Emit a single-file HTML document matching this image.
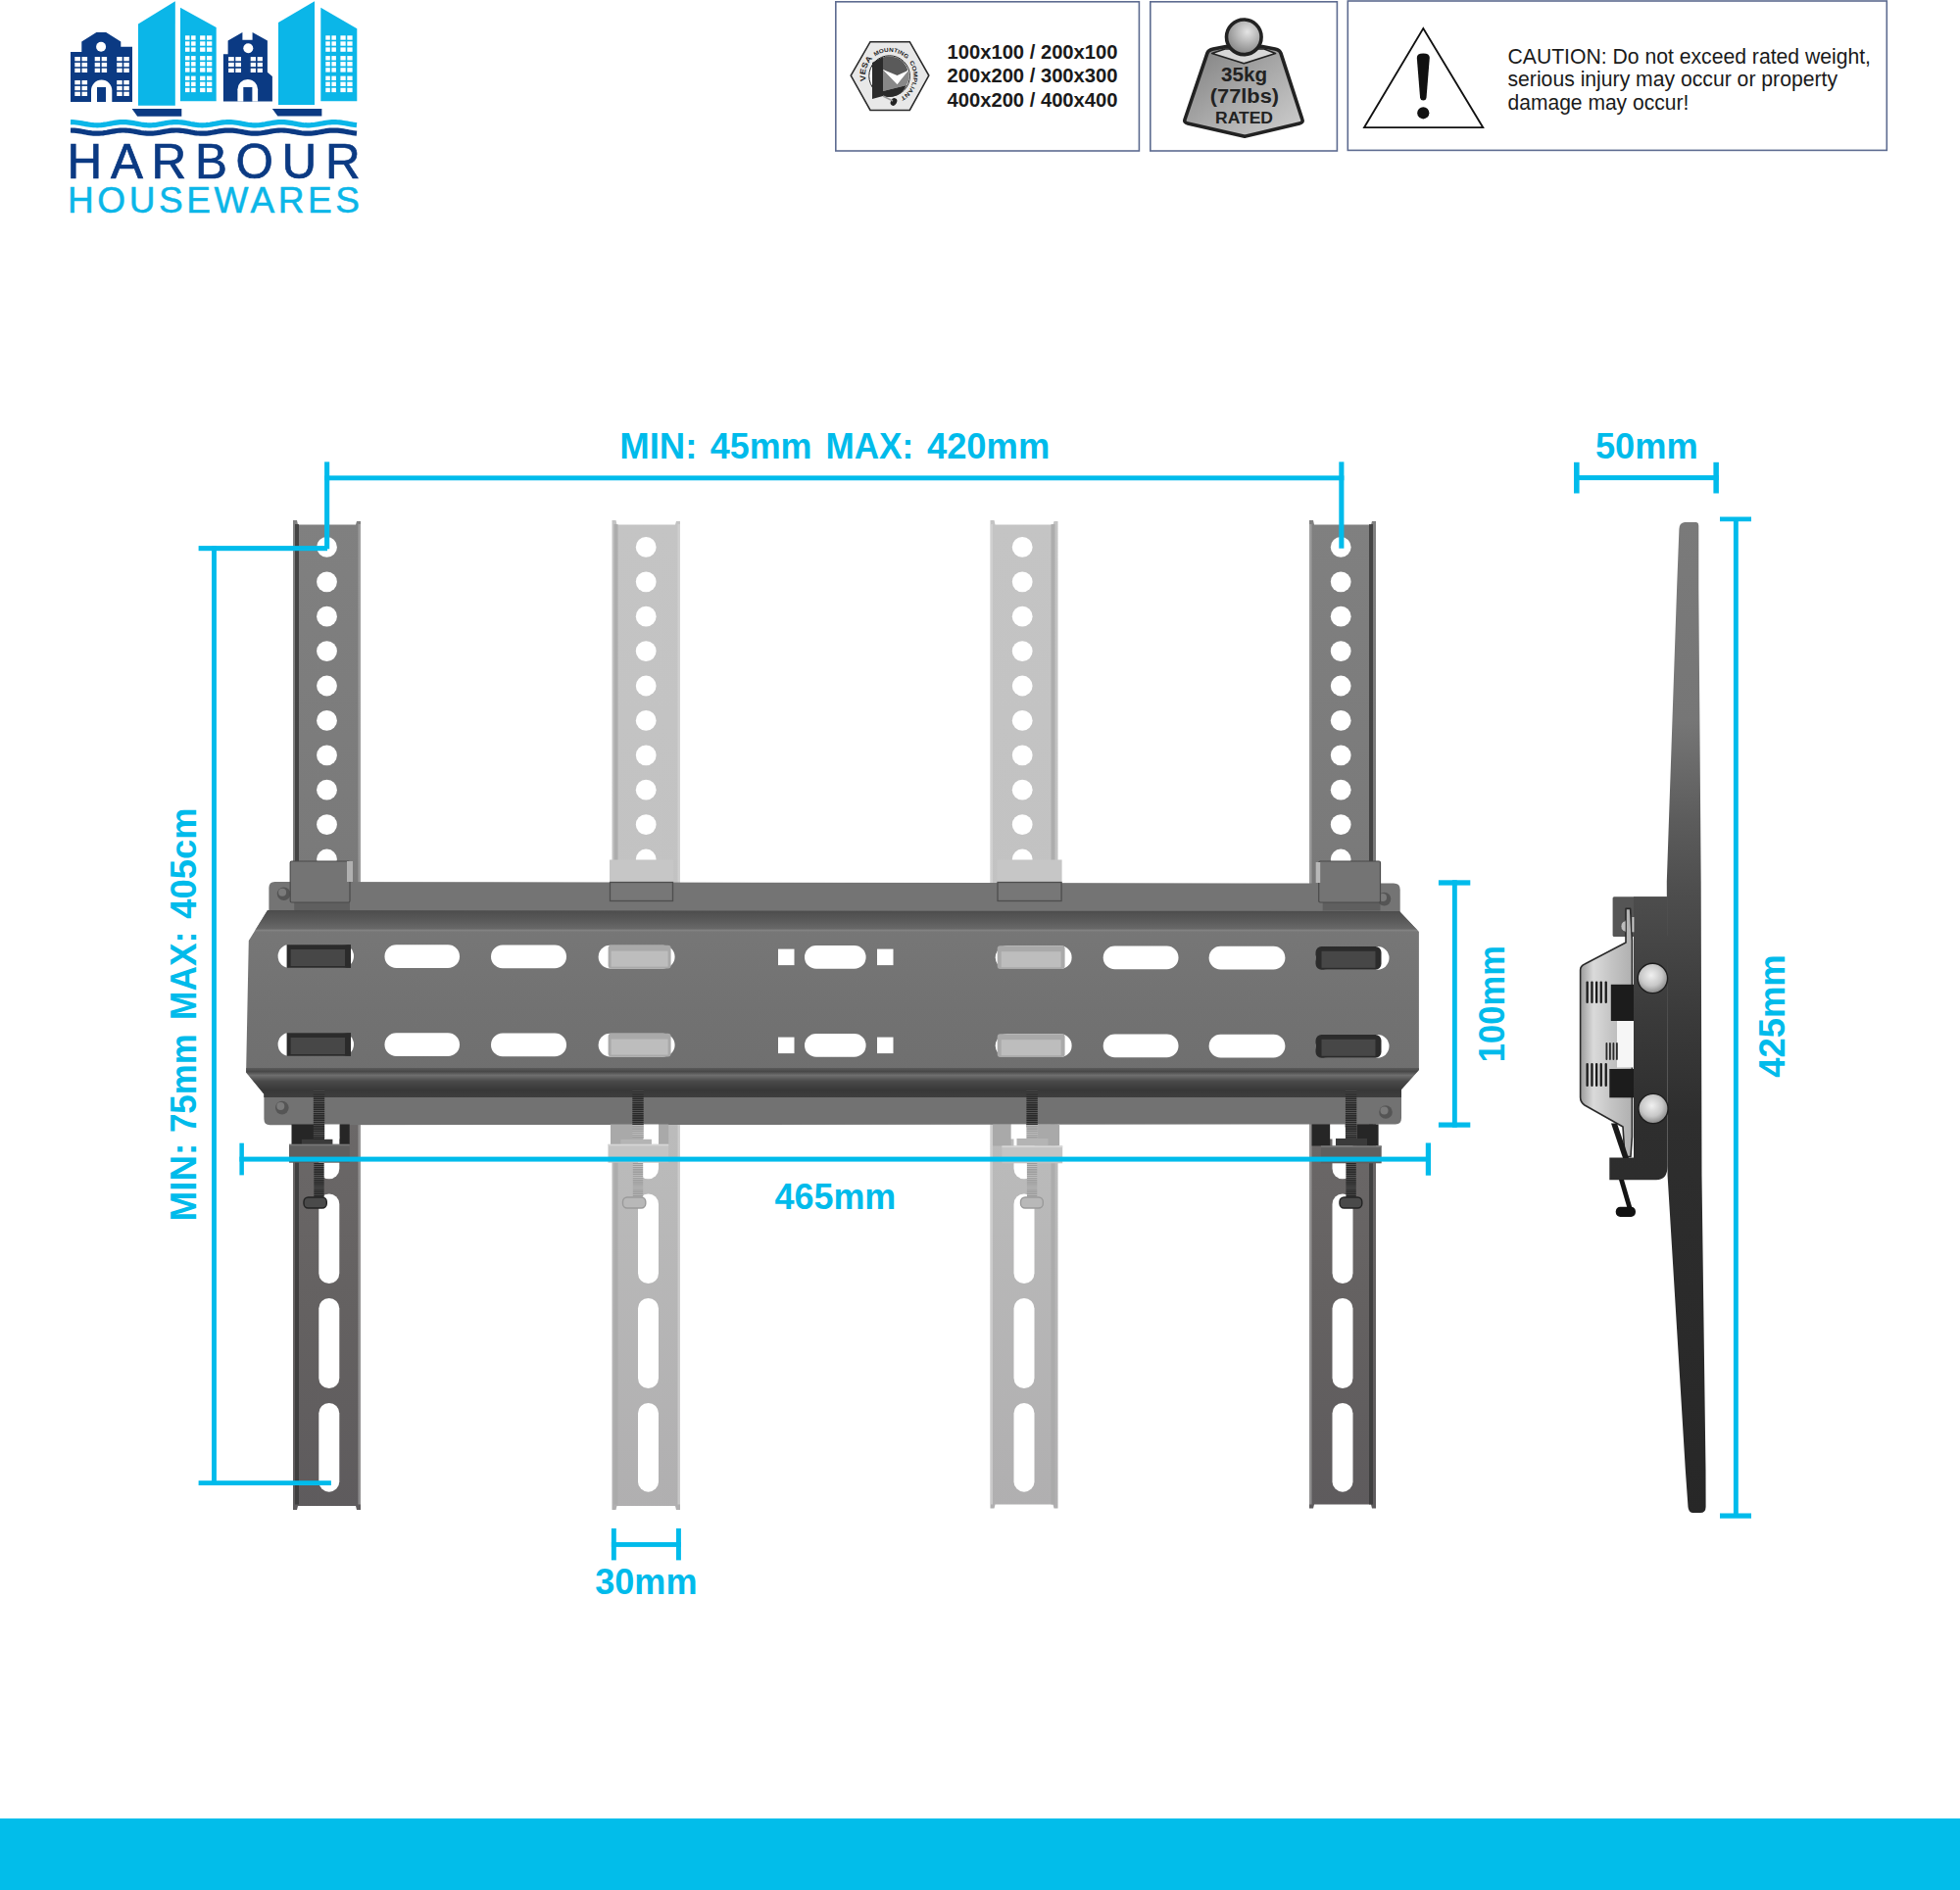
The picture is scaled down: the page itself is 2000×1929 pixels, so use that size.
<!DOCTYPE html>
<html><head><meta charset="utf-8"><title>Harbour Housewares TV Bracket</title>
<style>
html,body{margin:0;padding:0;background:#fff;}
body{width:2000px;height:1929px;overflow:hidden;position:relative;font-family:"Liberation Sans",sans-serif;}
svg{position:absolute;left:0;top:0;display:block;}
</style></head><body>
<svg width="2000" height="1929" viewBox="0 0 2000 1929" font-family="Liberation Sans, sans-serif">
<defs>
  <linearGradient id="wgt" x1="0" y1="0" x2="1" y2="1">
    <stop offset="0" stop-color="#7d7d7d"/><stop offset="0.5" stop-color="#a9a9a9"/><stop offset="1" stop-color="#d0d0d0"/>
  </linearGradient>
  <radialGradient id="ball" cx="0.6" cy="0.35" r="0.7">
    <stop offset="0" stop-color="#e4e4e4"/><stop offset="1" stop-color="#808080"/>
  </radialGradient>
</defs>
<rect x="0" y="0" width="2000" height="1929" fill="#fff"/>

<!-- ============ LOGO ============ -->
<g id="logo">
<path d="M72,104 L72,53 L83.3,53 L83.3,42.4 L98.4,33 L108.2,33 L123.3,42.4 L123.3,47.8 L135,47.8 L135,104 Z" fill="#0b3a83"/>
<circle cx="103.1" cy="47.8" r="5" fill="#fff"/>
<rect x="76.3" y="58.0" width="5.6" height="4.3" fill="#fff"/>
<rect x="76.3" y="63.9" width="5.6" height="4.3" fill="#fff"/>
<rect x="76.3" y="69.7" width="5.6" height="4.3" fill="#fff"/>
<rect x="83.5" y="58.0" width="5.6" height="4.3" fill="#fff"/>
<rect x="83.5" y="63.9" width="5.6" height="4.3" fill="#fff"/>
<rect x="83.5" y="69.7" width="5.6" height="4.3" fill="#fff"/>
<rect x="96.7" y="58.0" width="5.4" height="4.3" fill="#fff"/>
<rect x="96.7" y="63.9" width="5.4" height="4.3" fill="#fff"/>
<rect x="96.7" y="69.7" width="5.4" height="4.3" fill="#fff"/>
<rect x="103.7" y="58.0" width="5.4" height="4.3" fill="#fff"/>
<rect x="103.7" y="63.9" width="5.4" height="4.3" fill="#fff"/>
<rect x="103.7" y="69.7" width="5.4" height="4.3" fill="#fff"/>
<rect x="119.2" y="58.0" width="5.5" height="4.3" fill="#fff"/>
<rect x="119.2" y="63.9" width="5.5" height="4.3" fill="#fff"/>
<rect x="119.2" y="69.7" width="5.5" height="4.3" fill="#fff"/>
<rect x="126.3" y="58.0" width="5.5" height="4.3" fill="#fff"/>
<rect x="126.3" y="63.9" width="5.5" height="4.3" fill="#fff"/>
<rect x="126.3" y="69.7" width="5.5" height="4.3" fill="#fff"/>
<rect x="76.3" y="82.0" width="5.6" height="4.3" fill="#fff"/>
<rect x="76.3" y="87.9" width="5.6" height="4.3" fill="#fff"/>
<rect x="76.3" y="93.7" width="5.6" height="4.3" fill="#fff"/>
<rect x="83.5" y="82.0" width="5.6" height="4.3" fill="#fff"/>
<rect x="83.5" y="87.9" width="5.6" height="4.3" fill="#fff"/>
<rect x="83.5" y="93.7" width="5.6" height="4.3" fill="#fff"/>
<rect x="119.2" y="82.0" width="5.5" height="4.3" fill="#fff"/>
<rect x="119.2" y="87.9" width="5.5" height="4.3" fill="#fff"/>
<rect x="119.2" y="93.7" width="5.5" height="4.3" fill="#fff"/>
<rect x="126.3" y="82.0" width="5.5" height="4.3" fill="#fff"/>
<rect x="126.3" y="87.9" width="5.5" height="4.3" fill="#fff"/>
<rect x="126.3" y="93.7" width="5.5" height="4.3" fill="#fff"/>
<path d="M93,104 L93,92.2 A10.65,10.65 0 0 1 114.3,92.2 L114.3,104 Z" fill="#fff"/>
<rect x="99.0" y="89.0" width="9.0" height="15.0" fill="#0b3a83"/>
<path d="M141,24.5 L178.8,1.2 L178.8,107.8 L141,107.8 Z" fill="#0bb6e8"/>
<path d="M184,7.7 L220.7,28 L220.7,103.3 L184,103.3 Z" fill="#0bb6e8"/>
<rect x="189.0" y="36.3" width="4.5" height="4.4" fill="#fff"/>
<rect x="189.0" y="42.3" width="4.5" height="4.4" fill="#fff"/>
<rect x="189.0" y="48.4" width="4.5" height="4.4" fill="#fff"/>
<rect x="195.1" y="36.3" width="4.5" height="4.4" fill="#fff"/>
<rect x="195.1" y="42.3" width="4.5" height="4.4" fill="#fff"/>
<rect x="195.1" y="48.4" width="4.5" height="4.4" fill="#fff"/>
<rect x="204.1" y="36.3" width="5.3" height="4.4" fill="#fff"/>
<rect x="204.1" y="42.3" width="5.3" height="4.4" fill="#fff"/>
<rect x="204.1" y="48.4" width="5.3" height="4.4" fill="#fff"/>
<rect x="211.0" y="36.3" width="5.3" height="4.4" fill="#fff"/>
<rect x="211.0" y="42.3" width="5.3" height="4.4" fill="#fff"/>
<rect x="211.0" y="48.4" width="5.3" height="4.4" fill="#fff"/>
<rect x="189.0" y="57.1" width="4.5" height="4.4" fill="#fff"/>
<rect x="189.0" y="63.1" width="4.5" height="4.4" fill="#fff"/>
<rect x="189.0" y="69.2" width="4.5" height="4.4" fill="#fff"/>
<rect x="195.1" y="57.1" width="4.5" height="4.4" fill="#fff"/>
<rect x="195.1" y="63.1" width="4.5" height="4.4" fill="#fff"/>
<rect x="195.1" y="69.2" width="4.5" height="4.4" fill="#fff"/>
<rect x="204.1" y="57.1" width="5.3" height="4.4" fill="#fff"/>
<rect x="204.1" y="63.1" width="5.3" height="4.4" fill="#fff"/>
<rect x="204.1" y="69.2" width="5.3" height="4.4" fill="#fff"/>
<rect x="211.0" y="57.1" width="5.3" height="4.4" fill="#fff"/>
<rect x="211.0" y="63.1" width="5.3" height="4.4" fill="#fff"/>
<rect x="211.0" y="69.2" width="5.3" height="4.4" fill="#fff"/>
<rect x="189.0" y="77.6" width="4.5" height="4.4" fill="#fff"/>
<rect x="189.0" y="83.6" width="4.5" height="4.4" fill="#fff"/>
<rect x="189.0" y="89.7" width="4.5" height="4.4" fill="#fff"/>
<rect x="195.1" y="77.6" width="4.5" height="4.4" fill="#fff"/>
<rect x="195.1" y="83.6" width="4.5" height="4.4" fill="#fff"/>
<rect x="195.1" y="89.7" width="4.5" height="4.4" fill="#fff"/>
<rect x="204.1" y="77.6" width="5.3" height="4.4" fill="#fff"/>
<rect x="204.1" y="83.6" width="5.3" height="4.4" fill="#fff"/>
<rect x="204.1" y="89.7" width="5.3" height="4.4" fill="#fff"/>
<rect x="211.0" y="77.6" width="5.3" height="4.4" fill="#fff"/>
<rect x="211.0" y="83.6" width="5.3" height="4.4" fill="#fff"/>
<rect x="211.0" y="89.7" width="5.3" height="4.4" fill="#fff"/>
<path d="M134.6,111 L185.3,111 L185.3,118.7 L140.2,118.7 Z" fill="#0b3a83"/>
<path d="M227.9,103.6 L227.9,55.2 L232.6,55.2 L232.6,41.4 L247.4,33.1 L247.4,40.7 L257.6,40.7 L257.6,33.1 L272.9,41.4 L272.9,73.8 L277.9,78.1 L277.9,103.6 Z" fill="#0b3a83"/>
<circle cx="253.3" cy="49.3" r="5" fill="#fff"/>
<rect x="233.1" y="58.1" width="5.7" height="4.2" fill="#fff"/>
<rect x="233.1" y="63.9" width="5.7" height="4.2" fill="#fff"/>
<rect x="233.1" y="69.8" width="5.7" height="4.2" fill="#fff"/>
<rect x="240.3" y="58.1" width="5.7" height="4.2" fill="#fff"/>
<rect x="240.3" y="63.9" width="5.7" height="4.2" fill="#fff"/>
<rect x="240.3" y="69.8" width="5.7" height="4.2" fill="#fff"/>
<rect x="255.7" y="58.1" width="5.3" height="4.2" fill="#fff"/>
<rect x="255.7" y="63.9" width="5.3" height="4.2" fill="#fff"/>
<rect x="255.7" y="69.8" width="5.3" height="4.2" fill="#fff"/>
<rect x="262.6" y="58.1" width="5.3" height="4.2" fill="#fff"/>
<rect x="262.6" y="63.9" width="5.3" height="4.2" fill="#fff"/>
<rect x="262.6" y="69.8" width="5.3" height="4.2" fill="#fff"/>
<path d="M242.4,103.6 L242.4,91.35 A10.35,10.35 0 0 1 263.1,91.35 L263.1,103.6 Z" fill="#fff"/>
<rect x="248.3" y="89.0" width="9.1" height="14.6" fill="#0b3a83"/>
<path d="M284,23 L321,1.3 L321,107 L284,107 Z" fill="#0bb6e8"/>
<path d="M327.3,7.7 L364.3,29.3 L364.3,103.3 L327.3,103.3 Z" fill="#0bb6e8"/>
<rect x="332.3" y="36.3" width="4.5" height="4.4" fill="#fff"/>
<rect x="332.3" y="42.3" width="4.5" height="4.4" fill="#fff"/>
<rect x="332.3" y="48.4" width="4.5" height="4.4" fill="#fff"/>
<rect x="338.4" y="36.3" width="4.5" height="4.4" fill="#fff"/>
<rect x="338.4" y="42.3" width="4.5" height="4.4" fill="#fff"/>
<rect x="338.4" y="48.4" width="4.5" height="4.4" fill="#fff"/>
<rect x="347.4" y="36.3" width="5.3" height="4.4" fill="#fff"/>
<rect x="347.4" y="42.3" width="5.3" height="4.4" fill="#fff"/>
<rect x="347.4" y="48.4" width="5.3" height="4.4" fill="#fff"/>
<rect x="354.3" y="36.3" width="5.3" height="4.4" fill="#fff"/>
<rect x="354.3" y="42.3" width="5.3" height="4.4" fill="#fff"/>
<rect x="354.3" y="48.4" width="5.3" height="4.4" fill="#fff"/>
<rect x="332.3" y="57.1" width="4.5" height="4.4" fill="#fff"/>
<rect x="332.3" y="63.1" width="4.5" height="4.4" fill="#fff"/>
<rect x="332.3" y="69.2" width="4.5" height="4.4" fill="#fff"/>
<rect x="338.4" y="57.1" width="4.5" height="4.4" fill="#fff"/>
<rect x="338.4" y="63.1" width="4.5" height="4.4" fill="#fff"/>
<rect x="338.4" y="69.2" width="4.5" height="4.4" fill="#fff"/>
<rect x="347.4" y="57.1" width="5.3" height="4.4" fill="#fff"/>
<rect x="347.4" y="63.1" width="5.3" height="4.4" fill="#fff"/>
<rect x="347.4" y="69.2" width="5.3" height="4.4" fill="#fff"/>
<rect x="354.3" y="57.1" width="5.3" height="4.4" fill="#fff"/>
<rect x="354.3" y="63.1" width="5.3" height="4.4" fill="#fff"/>
<rect x="354.3" y="69.2" width="5.3" height="4.4" fill="#fff"/>
<rect x="332.3" y="77.6" width="4.5" height="4.4" fill="#fff"/>
<rect x="332.3" y="83.6" width="4.5" height="4.4" fill="#fff"/>
<rect x="332.3" y="89.7" width="4.5" height="4.4" fill="#fff"/>
<rect x="338.4" y="77.6" width="4.5" height="4.4" fill="#fff"/>
<rect x="338.4" y="83.6" width="4.5" height="4.4" fill="#fff"/>
<rect x="338.4" y="89.7" width="4.5" height="4.4" fill="#fff"/>
<rect x="347.4" y="77.6" width="5.3" height="4.4" fill="#fff"/>
<rect x="347.4" y="83.6" width="5.3" height="4.4" fill="#fff"/>
<rect x="347.4" y="89.7" width="5.3" height="4.4" fill="#fff"/>
<rect x="354.3" y="77.6" width="5.3" height="4.4" fill="#fff"/>
<rect x="354.3" y="83.6" width="5.3" height="4.4" fill="#fff"/>
<rect x="354.3" y="89.7" width="5.3" height="4.4" fill="#fff"/>
<path d="M277.8,111 L328.4,111 L328.4,118.6 L283.4,118.6 Z" fill="#0b3a83"/>
<path d="M72.0,124.60 L73.9,124.64 L75.9,124.76 L77.8,124.96 L79.8,125.22 L81.7,125.53 L83.7,125.87 L85.6,126.23 L87.6,126.59 L89.5,126.93 L91.5,127.23 L93.4,127.48 L95.4,127.67 L97.3,127.77 L99.3,127.80 L101.2,127.74 L103.1,127.61 L105.1,127.40 L107.0,127.13 L109.0,126.81 L110.9,126.46 L112.9,126.10 L114.8,125.74 L116.8,125.41 L118.7,125.12 L120.7,124.88 L122.6,124.71 L124.6,124.62 L126.5,124.61 L128.5,124.68 L130.4,124.83 L132.3,125.05 L134.3,125.32 L136.2,125.65 L138.2,126.00 L140.1,126.36 L142.1,126.72 L144.0,127.05 L146.0,127.33 L147.9,127.56 L149.9,127.71 L151.8,127.79 L153.8,127.79 L155.7,127.70 L157.7,127.54 L159.6,127.31 L161.5,127.02 L163.5,126.69 L165.4,126.33 L167.4,125.97 L169.3,125.62 L171.3,125.30 L173.2,125.02 L175.2,124.81 L177.1,124.67 L179.1,124.60 L181.0,124.62 L183.0,124.72 L184.9,124.90 L186.9,125.14 L188.8,125.44 L190.7,125.77 L192.7,126.13 L194.6,126.50 L196.6,126.84 L198.5,127.16 L200.5,127.42 L202.4,127.62 L204.4,127.75 L206.3,127.80 L208.3,127.77 L210.2,127.65 L212.2,127.46 L214.1,127.21 L216.1,126.90 L218.0,126.56 L219.9,126.20 L221.9,125.84 L223.8,125.50 L225.8,125.19 L227.7,124.94 L229.7,124.75 L231.6,124.63 L233.6,124.60 L235.5,124.65 L237.5,124.78 L239.4,124.98 L241.4,125.24 L243.3,125.56 L245.3,125.90 L247.2,126.27 L249.1,126.62 L251.1,126.96 L253.0,127.26 L255.0,127.50 L256.9,127.68 L258.9,127.78 L260.8,127.80 L262.8,127.73 L264.7,127.59 L266.7,127.38 L268.6,127.10 L270.6,126.78 L272.5,126.43 L274.5,126.07 L276.4,125.71 L278.3,125.38 L280.3,125.09 L282.2,124.86 L284.2,124.70 L286.1,124.61 L288.1,124.61 L290.0,124.69 L292.0,124.84 L293.9,125.07 L295.9,125.35 L297.8,125.68 L299.8,126.03 L301.7,126.40 L303.7,126.75 L305.6,127.07 L307.5,127.35 L309.5,127.57 L311.4,127.72 L313.4,127.79 L315.3,127.78 L317.3,127.69 L319.2,127.52 L321.2,127.28 L323.1,126.99 L325.1,126.66 L327.0,126.30 L329.0,125.94 L330.9,125.59 L332.9,125.27 L334.8,125.00 L336.7,124.79 L338.7,124.66 L340.6,124.60 L342.6,124.63 L344.5,124.73 L346.5,124.92 L348.4,125.17 L350.4,125.47 L352.3,125.81 L354.3,126.17 L356.2,126.53 L358.2,126.87 L360.1,127.18 L362.1,127.44 L364.0,127.64" fill="none" stroke="#0bb6e8" stroke-width="5.2"/>
<path d="M72.0,133.00 L73.9,133.04 L75.9,133.16 L77.8,133.36 L79.8,133.62 L81.7,133.93 L83.7,134.27 L85.6,134.63 L87.6,134.99 L89.5,135.33 L91.5,135.63 L93.4,135.88 L95.4,136.07 L97.3,136.17 L99.3,136.20 L101.2,136.14 L103.1,136.01 L105.1,135.80 L107.0,135.53 L109.0,135.21 L110.9,134.86 L112.9,134.50 L114.8,134.14 L116.8,133.81 L118.7,133.52 L120.7,133.28 L122.6,133.11 L124.6,133.02 L126.5,133.01 L128.5,133.08 L130.4,133.23 L132.3,133.45 L134.3,133.72 L136.2,134.05 L138.2,134.40 L140.1,134.76 L142.1,135.12 L144.0,135.45 L146.0,135.73 L147.9,135.96 L149.9,136.11 L151.8,136.19 L153.8,136.19 L155.7,136.10 L157.7,135.94 L159.6,135.71 L161.5,135.42 L163.5,135.09 L165.4,134.73 L167.4,134.37 L169.3,134.02 L171.3,133.70 L173.2,133.42 L175.2,133.21 L177.1,133.07 L179.1,133.00 L181.0,133.02 L183.0,133.12 L184.9,133.30 L186.9,133.54 L188.8,133.84 L190.7,134.17 L192.7,134.53 L194.6,134.90 L196.6,135.24 L198.5,135.56 L200.5,135.82 L202.4,136.02 L204.4,136.15 L206.3,136.20 L208.3,136.17 L210.2,136.05 L212.2,135.86 L214.1,135.61 L216.1,135.30 L218.0,134.96 L219.9,134.60 L221.9,134.24 L223.8,133.90 L225.8,133.59 L227.7,133.34 L229.7,133.15 L231.6,133.03 L233.6,133.00 L235.5,133.05 L237.5,133.18 L239.4,133.38 L241.4,133.64 L243.3,133.96 L245.3,134.30 L247.2,134.67 L249.1,135.02 L251.1,135.36 L253.0,135.66 L255.0,135.90 L256.9,136.08 L258.9,136.18 L260.8,136.20 L262.8,136.13 L264.7,135.99 L266.7,135.78 L268.6,135.50 L270.6,135.18 L272.5,134.83 L274.5,134.47 L276.4,134.11 L278.3,133.78 L280.3,133.49 L282.2,133.26 L284.2,133.10 L286.1,133.01 L288.1,133.01 L290.0,133.09 L292.0,133.24 L293.9,133.47 L295.9,133.75 L297.8,134.08 L299.8,134.43 L301.7,134.80 L303.7,135.15 L305.6,135.47 L307.5,135.75 L309.5,135.97 L311.4,136.12 L313.4,136.19 L315.3,136.18 L317.3,136.09 L319.2,135.92 L321.2,135.68 L323.1,135.39 L325.1,135.06 L327.0,134.70 L329.0,134.34 L330.9,133.99 L332.9,133.67 L334.8,133.40 L336.7,133.19 L338.7,133.06 L340.6,133.00 L342.6,133.03 L344.5,133.13 L346.5,133.32 L348.4,133.57 L350.4,133.87 L352.3,134.21 L354.3,134.57 L356.2,134.93 L358.2,135.27 L360.1,135.58 L362.1,135.84 L364.0,136.04" fill="none" stroke="#0b3a83" stroke-width="5.2"/>
<text x="68.6" y="181.6" font-size="49.4" fill="#0b3a83" stroke="#0b3a83" stroke-width="0.7" textLength="299" lengthAdjust="spacing">HARBOUR</text>
<text x="69" y="216.8" font-size="37" fill="#0bb6e8" stroke="#0bb6e8" stroke-width="0.5" textLength="298" lengthAdjust="spacing">HOUSEWARES</text>
</g>

<!-- ============ INFO BOXES ============ -->
<g id="boxes">
<rect x="852.8" y="1.8" width="309.6" height="152.2" fill="#fff" stroke="#5d6b90" stroke-width="1.6"/>
<rect x="1173.8" y="1.8" width="190.6" height="152.2" fill="#fff" stroke="#5d6b90" stroke-width="1.6"/>
<rect x="1375.3" y="1" width="550" height="152.4" fill="#fff" stroke="#5d6b90" stroke-width="1.6"/>
<path d="M868.2,77.1 L888,42.7 L928.3,42.7 L947.8,77.1 L928.3,112.5 L888,112.5 Z" fill="#e8e8e8" stroke="#2a2a2a" stroke-width="1.6"/>
<circle cx="907.6" cy="77.6" r="20.8" fill="#fff" stroke="#222" stroke-width="1"/>
<path d="M901,58.5 A19.5,19.5 0 0 1 926.5,72 L915.5,77 L901,71 Z" fill="#5a5a5a"/>
<path d="M901,71 L915.5,86 L927,72 A19.5,19.5 0 0 1 925,87 L901,93 Z" fill="#888"/>
<path d="M901,71 L915.5,86 L926.5,71 L927,72 L915.5,80 Z" fill="#fff"/>
<path d="M890,64 L901,58 L901,93 L925,87 A19.5,19.5 0 0 1 901,98 L890,101 Z" fill="#2a2a2a"/>
<ellipse cx="912" cy="104" rx="3" ry="4" fill="#222" transform="rotate(30 912 104)"/>
<line x1="901" y1="98" x2="911" y2="103" stroke="#999" stroke-width="1.5"/>
<defs><path id="varc" d="M883.6,82.7 A24.6,24.6 0 1 1 918,99.8"/></defs>
<text font-size="8" font-weight="bold" fill="#1e1e1e"><textPath href="#varc" textLength="25" lengthAdjust="spacingAndGlyphs">VESA</textPath></text>
<text font-size="5.8" font-weight="bold" fill="#1e1e1e"><textPath href="#varc" startOffset="28" textLength="35" lengthAdjust="spacingAndGlyphs">MOUNTING</textPath></text>
<text font-size="5.8" font-weight="bold" fill="#1e1e1e"><textPath href="#varc" startOffset="67" textLength="42" lengthAdjust="spacingAndGlyphs">COMPLIANT</textPath></text>
<text x="966.5" y="59.8" font-size="20.5" font-weight="bold" fill="#1a1a1a" textLength="174" lengthAdjust="spacingAndGlyphs">100x100 / 200x100</text>
<text x="966.5" y="84.3" font-size="20.5" font-weight="bold" fill="#1a1a1a" textLength="174" lengthAdjust="spacingAndGlyphs">200x200 / 300x300</text>
<text x="966.5" y="108.8" font-size="20.5" font-weight="bold" fill="#1a1a1a" textLength="174" lengthAdjust="spacingAndGlyphs">400x200 / 400x400</text>
<path d="M1231.9,54.4 Q1233,51 1238,50 L1251,47.5 L1288,47.5 L1301,50 Q1306,51 1307,54.4 L1328.9,122 Q1330,125 1326,126 L1270,139.3 L1212,126 Q1208,125 1209,122 Z" fill="url(#wgt)" stroke="#222" stroke-width="3.6" stroke-linejoin="round"/>
<path d="M1236.7,54.6 L1269.3,64.8 L1301.5,54.6 L1290,50 L1250,50 Z" fill="#d8d8d8" stroke="#222" stroke-width="1.6" stroke-linejoin="round"/>
<circle cx="1269.3" cy="37.8" r="17.8" fill="url(#ball)" stroke="#222" stroke-width="3.6"/>
<text x="1246" y="83.3" font-size="20.3" font-weight="bold" fill="#222" textLength="47" lengthAdjust="spacingAndGlyphs">35kg</text>
<text x="1234.8" y="104.6" font-size="20.3" font-weight="bold" fill="#222" textLength="70.2" lengthAdjust="spacingAndGlyphs">(77lbs)</text>
<text x="1240" y="125.6" font-size="17.4" font-weight="bold" fill="#222" textLength="59" lengthAdjust="spacingAndGlyphs">RATED</text>
<path d="M1452.3,29 L1513.3,130.2 L1392,130.2 Z" fill="#fff" stroke="#111" stroke-width="1.8" stroke-linejoin="miter"/>
<path d="M1445.8,59 Q1445.8,54.6 1452.3,54.6 Q1458.8,54.6 1458.8,59 L1455.5,100 Q1455,102.5 1452.3,102.5 Q1449.6,102.5 1449.1,100 Z" fill="#111"/>
<circle cx="1452.3" cy="115.3" r="6.1" fill="#111"/>
<text x="1538.5" y="64.8" font-size="22" fill="#1a1a1a" textLength="370.5" lengthAdjust="spacingAndGlyphs">CAUTION: Do not exceed rated weight,</text>
<text x="1538.5" y="88.4" font-size="22" fill="#1a1a1a" textLength="336.5" lengthAdjust="spacingAndGlyphs">serious injury may occur or property</text>
<text x="1538.5" y="112.0" font-size="22" fill="#1a1a1a" textLength="184.8" lengthAdjust="spacingAndGlyphs">damage may occur!</text>
</g>

<!-- ============ BRACKET ============ -->
<g id="bracket">
<defs>
<linearGradient id="rdk" x1="0" y1="0" x2="0" y2="1"><stop offset="0" stop-color="#808080"/><stop offset="0.33" stop-color="#7a7a7a"/><stop offset="0.63" stop-color="#6a6767"/><stop offset="0.8" stop-color="#646161"/><stop offset="1" stop-color="#5e5b5d"/></linearGradient>
<linearGradient id="rlt" x1="0" y1="0" x2="0" y2="1"><stop offset="0" stop-color="#c4c4c4"/><stop offset="0.4" stop-color="#c2c2c2"/><stop offset="0.65" stop-color="#bababa"/><stop offset="1" stop-color="#b0afb0"/></linearGradient>
<linearGradient id="plate" x1="0" y1="0" x2="0" y2="1"><stop offset="0" stop-color="#787878"/><stop offset="0.5" stop-color="#727272"/><stop offset="1" stop-color="#6e6e6e"/></linearGradient>
</defs>
<path d="M299,1541 L299,531 L303,531 L304,535.5 L363,535.5 L364,532 L368,532 L368,1541 L364,1541 L363,1537 L304,1537 L303,1541 Z" fill="url(#rdk)"/>
<rect x="301" y="535" width="4" height="1000.5" fill="#3a3a3a" opacity="0.85"/>
<rect x="365.5" y="535" width="2.5" height="1000.5" fill="#b0b0b0" opacity="0.6"/>
<circle cx="333.5" cy="558.4" r="10.4" fill="#fff"/>
<circle cx="333.5" cy="593.8" r="10.4" fill="#fff"/>
<circle cx="333.5" cy="629.2" r="10.4" fill="#fff"/>
<circle cx="333.5" cy="664.6" r="10.4" fill="#fff"/>
<circle cx="333.5" cy="700.0" r="10.4" fill="#fff"/>
<circle cx="333.5" cy="735.4" r="10.4" fill="#fff"/>
<circle cx="333.5" cy="770.8" r="10.4" fill="#fff"/>
<circle cx="333.5" cy="806.2" r="10.4" fill="#fff"/>
<circle cx="333.5" cy="841.6" r="10.4" fill="#fff"/>
<circle cx="333.5" cy="877.0" r="10.4" fill="#fff"/>
<rect x="325.3" y="1150.0" width="21.0" height="53.3" rx="10.5" fill="#fff"/>
<rect x="325.3" y="1218.5" width="21.0" height="91.5" rx="10.5" fill="#fff"/>
<rect x="325.3" y="1325.0" width="21.0" height="92.0" rx="10.5" fill="#fff"/>
<rect x="325.3" y="1432.0" width="21.0" height="90.7" rx="10.5" fill="#fff"/>
<path d="M624.5,1541 L624.5,531 L628.5,531 L629.5,535.5 L689,535.5 L690,532 L694,532 L694,1541 L690,1541 L689,1537 L629.5,1537 L628.5,1541 Z" fill="url(#rlt)"/>
<rect x="626.5" y="535" width="4" height="1000.5" fill="#a9a9a9" opacity="0.85"/>
<rect x="691.5" y="535" width="2.5" height="1000.5" fill="#d8d8d8" opacity="0.6"/>
<circle cx="659.2" cy="558.4" r="10.4" fill="#fff"/>
<circle cx="659.2" cy="593.8" r="10.4" fill="#fff"/>
<circle cx="659.2" cy="629.2" r="10.4" fill="#fff"/>
<circle cx="659.2" cy="664.6" r="10.4" fill="#fff"/>
<circle cx="659.2" cy="700.0" r="10.4" fill="#fff"/>
<circle cx="659.2" cy="735.4" r="10.4" fill="#fff"/>
<circle cx="659.2" cy="770.8" r="10.4" fill="#fff"/>
<circle cx="659.2" cy="806.2" r="10.4" fill="#fff"/>
<circle cx="659.2" cy="841.6" r="10.4" fill="#fff"/>
<circle cx="659.2" cy="877.0" r="10.4" fill="#fff"/>
<rect x="651.0" y="1150.0" width="21.0" height="53.3" rx="10.5" fill="#fff"/>
<rect x="651.0" y="1218.5" width="21.0" height="91.5" rx="10.5" fill="#fff"/>
<rect x="651.0" y="1325.0" width="21.0" height="92.0" rx="10.5" fill="#fff"/>
<rect x="651.0" y="1432.0" width="21.0" height="90.7" rx="10.5" fill="#fff"/>
<path d="M1010.5,1539.5 L1010.5,531 L1014.5,531 L1015.5,535.5 L1074.5,535.5 L1075.5,532 L1079.5,532 L1079.5,1539.5 L1075.5,1539.5 L1074.5,1535.5 L1015.5,1535.5 L1014.5,1539.5 Z" fill="url(#rlt)"/>
<rect x="1072.5" y="535" width="4" height="1000.5" fill="#a9a9a9" opacity="0.85"/>
<rect x="1010.5" y="535" width="2.5" height="1000.5" fill="#d8d8d8" opacity="0.6"/>
<circle cx="1043.2" cy="558.4" r="10.4" fill="#fff"/>
<circle cx="1043.2" cy="593.8" r="10.4" fill="#fff"/>
<circle cx="1043.2" cy="629.2" r="10.4" fill="#fff"/>
<circle cx="1043.2" cy="664.6" r="10.4" fill="#fff"/>
<circle cx="1043.2" cy="700.0" r="10.4" fill="#fff"/>
<circle cx="1043.2" cy="735.4" r="10.4" fill="#fff"/>
<circle cx="1043.2" cy="770.8" r="10.4" fill="#fff"/>
<circle cx="1043.2" cy="806.2" r="10.4" fill="#fff"/>
<circle cx="1043.2" cy="841.6" r="10.4" fill="#fff"/>
<circle cx="1043.2" cy="877.0" r="10.4" fill="#fff"/>
<rect x="1034.5" y="1150.0" width="21.0" height="53.3" rx="10.5" fill="#fff"/>
<rect x="1034.5" y="1218.5" width="21.0" height="91.5" rx="10.5" fill="#fff"/>
<rect x="1034.5" y="1325.0" width="21.0" height="92.0" rx="10.5" fill="#fff"/>
<rect x="1034.5" y="1432.0" width="21.0" height="90.7" rx="10.5" fill="#fff"/>
<path d="M1336,1539.5 L1336,531 L1340,531 L1341,535.5 L1399,535.5 L1400,532 L1404,532 L1404,1539.5 L1400,1539.5 L1399,1535.5 L1341,1535.5 L1340,1539.5 Z" fill="url(#rdk)"/>
<rect x="1397" y="535" width="4" height="1000.5" fill="#3a3a3a" opacity="0.85"/>
<rect x="1336" y="535" width="2.5" height="1000.5" fill="#b0b0b0" opacity="0.6"/>
<circle cx="1368.2" cy="558.4" r="10.4" fill="#fff"/>
<circle cx="1368.2" cy="593.8" r="10.4" fill="#fff"/>
<circle cx="1368.2" cy="629.2" r="10.4" fill="#fff"/>
<circle cx="1368.2" cy="664.6" r="10.4" fill="#fff"/>
<circle cx="1368.2" cy="700.0" r="10.4" fill="#fff"/>
<circle cx="1368.2" cy="735.4" r="10.4" fill="#fff"/>
<circle cx="1368.2" cy="770.8" r="10.4" fill="#fff"/>
<circle cx="1368.2" cy="806.2" r="10.4" fill="#fff"/>
<circle cx="1368.2" cy="841.6" r="10.4" fill="#fff"/>
<circle cx="1368.2" cy="877.0" r="10.4" fill="#fff"/>
<rect x="1359.5" y="1150.0" width="21.0" height="53.3" rx="10.5" fill="#fff"/>
<rect x="1359.5" y="1218.5" width="21.0" height="91.5" rx="10.5" fill="#fff"/>
<rect x="1359.5" y="1325.0" width="21.0" height="92.0" rx="10.5" fill="#fff"/>
<rect x="1359.5" y="1432.0" width="21.0" height="90.7" rx="10.5" fill="#fff"/>
<defs><clipPath id="fp"><path d="M253.8,960 L273,929 L1428,930 L1447.9,951 L1447.9,1092 L1430,1112 L1430,1120 L269.4,1120 L269.4,1116.7 L251.1,1094.4 Z"/></clipPath>
<linearGradient id="bandT" x1="0" y1="929" x2="0" y2="949" gradientUnits="userSpaceOnUse"><stop offset="0" stop-color="#4c4c4c"/><stop offset="0.5" stop-color="#595959"/><stop offset="1" stop-color="#6a6a6a"/></linearGradient>
<linearGradient id="bandB" x1="0" y1="1090" x2="0" y2="1120" gradientUnits="userSpaceOnUse"><stop offset="0" stop-color="#5a5a5a"/><stop offset="0.12" stop-color="#484848"/><stop offset="0.25" stop-color="#6e6e6e"/><stop offset="0.45" stop-color="#4a4a4a"/><stop offset="0.75" stop-color="#383838"/><stop offset="1" stop-color="#3e3e3e"/></linearGradient></defs>
<path d="M274.4,906 Q274.4,900 280.4,900 L1422,901.6 Q1428.7,901.6 1428.7,908 L1428.7,935 L274.4,935 Z" fill="#747474"/>
<path d="M269.4,1112 L1430,1112 L1430,1141 Q1430,1147.5 1424,1147.5 L275.4,1148.2 Q269.4,1148.2 269.4,1142 Z" fill="#727272"/>
<g clip-path="url(#fp)">
<rect x="240" y="925" width="1220" height="200" fill="url(#plate)"/>
<rect x="240" y="929" width="1220" height="20" fill="url(#bandT)"/>
<rect x="240" y="948.5" width="1220" height="2" fill="#8a8a8a" opacity="0.6"/>
<rect x="240" y="1090" width="1220" height="30" fill="url(#bandB)"/>
</g>
<circle cx="289.6" cy="912.3" r="6.8" fill="#555"/><circle cx="288.1" cy="910.8" r="4" fill="#7a7a7a"/>
<circle cx="287.8" cy="1130.6" r="6.8" fill="#555"/><circle cx="286.3" cy="1129.1" r="4" fill="#7a7a7a"/>
<circle cx="1412.5" cy="917.6" r="6.8" fill="#555"/><circle cx="1411.0" cy="916.1" r="4" fill="#7a7a7a"/>
<circle cx="1414" cy="1135" r="6.8" fill="#555"/><circle cx="1412.5" cy="1133.5" r="4" fill="#7a7a7a"/>
<rect x="283.6" y="964.1" width="77.4" height="23.8" rx="11.9" fill="#fff"/>
<rect x="292.6" y="964.1" width="65.39999999999998" height="23.8" fill="#2b2b2b"/>
<rect x="296.6" y="969.0" width="55.39999999999998" height="17" fill="#474747"/>
<rect x="392.5" y="964.3" width="76.5" height="23.8" rx="11.9" fill="#fff"/>
<rect x="501.0" y="964.5" width="77.0" height="23.8" rx="11.9" fill="#fff"/>
<rect x="610.6" y="964.7" width="78.0" height="23.8" rx="11.9" fill="#fff"/>
<rect x="620.6" y="964.7" width="64.0" height="23.8" rx="3" fill="#a9a9a9"/>
<rect x="623.6" y="970.6" width="58.0" height="16" fill="#bdbdbd"/>
<rect x="821.0" y="965.0" width="62.6" height="23.8" rx="11.9" fill="#fff"/>
<rect x="1015.7" y="965.3" width="77.9" height="23.8" rx="11.9" fill="#fff"/>
<rect x="1017.7" y="965.3" width="68.89999999999986" height="23.8" rx="3" fill="#a9a9a9"/>
<rect x="1021.7" y="971.2" width="60.899999999999864" height="16" fill="#bdbdbd"/>
<rect x="1125.7" y="965.5" width="76.8" height="23.8" rx="11.9" fill="#fff"/>
<rect x="1233.6" y="965.7" width="77.8" height="23.8" rx="11.9" fill="#fff"/>
<rect x="1342.5" y="965.9" width="75.0" height="23.8" rx="11.9" fill="#fff"/>
<rect x="1342.5" y="965.9" width="67.0" height="23.8" rx="6" fill="#2b2b2b"/>
<rect x="1348.5" y="970.8" width="55.0" height="17" fill="#474747"/>
<rect x="794" y="968.6" width="16.5" height="16.5" fill="#fff"/>
<rect x="895" y="968.6" width="16.5" height="16.5" fill="#fff"/>
<rect x="283.6" y="1054.1" width="77.4" height="23.8" rx="11.9" fill="#fff"/>
<rect x="292.6" y="1054.1" width="65.39999999999998" height="23.8" fill="#2b2b2b"/>
<rect x="296.6" y="1059.0" width="55.39999999999998" height="17" fill="#474747"/>
<rect x="392.5" y="1054.3" width="76.5" height="23.8" rx="11.9" fill="#fff"/>
<rect x="501.0" y="1054.5" width="77.0" height="23.8" rx="11.9" fill="#fff"/>
<rect x="610.6" y="1054.7" width="78.0" height="23.8" rx="11.9" fill="#fff"/>
<rect x="620.6" y="1054.7" width="64.0" height="23.8" rx="3" fill="#a9a9a9"/>
<rect x="623.6" y="1060.6" width="58.0" height="16" fill="#bdbdbd"/>
<rect x="821.0" y="1055.0" width="62.6" height="23.8" rx="11.9" fill="#fff"/>
<rect x="1015.7" y="1055.3" width="77.9" height="23.8" rx="11.9" fill="#fff"/>
<rect x="1017.7" y="1055.3" width="68.89999999999986" height="23.8" rx="3" fill="#a9a9a9"/>
<rect x="1021.7" y="1061.2" width="60.899999999999864" height="16" fill="#bdbdbd"/>
<rect x="1125.7" y="1055.5" width="76.8" height="23.8" rx="11.9" fill="#fff"/>
<rect x="1233.6" y="1055.7" width="77.8" height="23.8" rx="11.9" fill="#fff"/>
<rect x="1342.5" y="1055.9" width="75.0" height="23.8" rx="11.9" fill="#fff"/>
<rect x="1342.5" y="1055.9" width="67.0" height="23.8" rx="6" fill="#2b2b2b"/>
<rect x="1348.5" y="1060.8" width="55.0" height="17" fill="#474747"/>
<rect x="794" y="1058.6" width="16.5" height="16.5" fill="#fff"/>
<rect x="895" y="1058.6" width="16.5" height="16.5" fill="#fff"/>
<rect x="300.2" y="920" width="56.80000000000001" height="9.5" fill="#4e4e4e" opacity="0.55"/>
<rect x="296.2" y="879" width="60.80000000000001" height="42" rx="1.5" fill="#747474" stroke="#4a4a4a" stroke-width="1.2"/>
<rect x="354" y="879" width="6" height="21" fill="#b0b0b0"/>
<rect x="622" y="877.5" width="65" height="23" fill="#c6c6c6"/>
<rect x="622.5" y="900.5" width="64" height="19" fill="#777" stroke="#4e4e4e" stroke-width="1.3"/>
<rect x="1017.5" y="877.5" width="66.09999999999991" height="23" fill="#c6c6c6"/>
<rect x="1018.0" y="900.5" width="65.09999999999991" height="19" fill="#777" stroke="#4e4e4e" stroke-width="1.3"/>
<rect x="1349.7" y="920" width="58.799999999999955" height="9.5" fill="#4e4e4e" opacity="0.55"/>
<rect x="1345.7" y="879" width="62.799999999999955" height="42" rx="1.5" fill="#747474" stroke="#4a4a4a" stroke-width="1.2"/>
<rect x="1342.7" y="880" width="4.5" height="21" fill="#b8b8b8"/>
<defs><pattern id="thrD" width="4" height="2.2" patternUnits="userSpaceOnUse"><rect width="4" height="2.2" fill="#262626"/><rect y="0" width="4" height="0.8" fill="#5a5a5a"/></pattern>
<pattern id="thrL" width="4" height="2.2" patternUnits="userSpaceOnUse"><rect width="4" height="2.2" fill="#9a9a9a"/><rect y="0" width="4" height="0.8" fill="#c4c4c4"/></pattern></defs>
<rect x="297.5" y="1147.5" width="33.5" height="21" fill="#262626"/>
<rect x="331" y="1147.5" width="15.7" height="15" fill="#fff"/>
<rect x="346.7" y="1147.5" width="10" height="21" fill="#262626"/>
<rect x="307.8" y="1162.8" width="31.6" height="6" fill="#3a3a3a"/>
<rect x="295" y="1167.8" width="61.7" height="18.9" fill="#5f5f5f"/>
<rect x="295" y="1167.8" width="61.7" height="1.6" fill="#777"/>
<rect x="319.8" y="1113.5" width="11.4" height="34.5" fill="url(#thrD)"/>
<rect x="319.8" y="1148" width="11.4" height="14" fill="url(#thrD)"/>
<rect x="320.3" y="1187" width="10.4" height="36" fill="url(#thrD)"/>
<rect x="310.0" y="1222" width="23.3" height="11" rx="4.5" fill="#4a4a4a" stroke="#222" stroke-width="1.4"/>
<rect x="623.0" y="1147.5" width="33.5" height="21" fill="#a9a9a9"/>
<rect x="656.5" y="1147.5" width="15.7" height="15" fill="#fff"/>
<rect x="672.2" y="1147.5" width="10" height="21" fill="#a9a9a9"/>
<rect x="633.3" y="1162.8" width="31.6" height="6" fill="#b4b4b4"/>
<rect x="620.5" y="1167.8" width="61.7" height="18.9" fill="#c4c4c4"/>
<rect x="620.5" y="1167.8" width="61.7" height="1.6" fill="#d6d6d6"/>
<rect x="645.3" y="1113.5" width="11.4" height="34.5" fill="url(#thrD)"/>
<rect x="645.3" y="1148" width="11.4" height="14" fill="url(#thrL)"/>
<rect x="645.8" y="1187" width="10.4" height="36" fill="url(#thrL)"/>
<rect x="635.5" y="1222" width="23.3" height="11" rx="4.5" fill="#b8b8b8" stroke="#9a9a9a" stroke-width="1.4"/>
<rect x="1013.0999999999999" y="1147.5" width="18.6" height="22" fill="#a9a9a9"/>
<rect x="1031.7" y="1147.5" width="15.4" height="15" fill="#fff"/>
<rect x="1059.1" y="1147.5" width="22" height="22" fill="#a9a9a9"/>
<rect x="1037.5" y="1162" width="32" height="7.5" fill="#b4b4b4"/>
<rect x="1022.4000000000001" y="1169.5" width="61.8" height="17.8" fill="#c4c4c4"/>
<rect x="1022.4000000000001" y="1169.5" width="61.8" height="1.6" fill="#d6d6d6"/>
<rect x="1047.3999999999999" y="1113.5" width="11.4" height="34.5" fill="url(#thrD)"/>
<rect x="1047.3999999999999" y="1148" width="11.4" height="14" fill="url(#thrL)"/>
<rect x="1047.8999999999999" y="1187" width="10.4" height="36" fill="url(#thrL)"/>
<rect x="1041.5" y="1222" width="22.8" height="11" rx="4.5" fill="#b8b8b8" stroke="#9a9a9a" stroke-width="1.4"/>
<rect x="1338.6" y="1147.5" width="18.6" height="22" fill="#262626"/>
<rect x="1357.2" y="1147.5" width="15.4" height="15" fill="#fff"/>
<rect x="1384.6" y="1147.5" width="22" height="22" fill="#262626"/>
<rect x="1363" y="1162" width="32" height="7.5" fill="#3a3a3a"/>
<rect x="1347.9" y="1169.5" width="61.8" height="17.8" fill="#5f5f5f"/>
<rect x="1347.9" y="1169.5" width="61.8" height="1.6" fill="#777"/>
<rect x="1372.8999999999999" y="1113.5" width="11.4" height="34.5" fill="url(#thrD)"/>
<rect x="1372.8999999999999" y="1148" width="11.4" height="14" fill="url(#thrD)"/>
<rect x="1373.3999999999999" y="1187" width="10.4" height="36" fill="url(#thrD)"/>
<rect x="1367.0" y="1222" width="22.8" height="11" rx="4.5" fill="#4a4a4a" stroke="#222" stroke-width="1.4"/>
</g>

<!-- ============ SIDE VIEW ============ -->
<g id="side">
<defs>
<linearGradient id="sbar" x1="0" y1="533" x2="0" y2="1545" gradientUnits="userSpaceOnUse"><stop offset="0" stop-color="#7a7a7a"/><stop offset="0.2" stop-color="#767676"/><stop offset="0.3" stop-color="#5c5c5c"/><stop offset="0.37" stop-color="#4e4e4e"/><stop offset="0.5" stop-color="#3a3a3a"/><stop offset="0.6" stop-color="#2e2e2e"/><stop offset="1" stop-color="#272727"/></linearGradient>
<linearGradient id="silver" x1="0" y1="0" x2="1" y2="0"><stop offset="0" stop-color="#9a9a9a"/><stop offset="0.25" stop-color="#dadada"/><stop offset="0.6" stop-color="#c4c4c4"/><stop offset="1" stop-color="#b0b0b0"/></linearGradient>
<radialGradient id="bolt" cx="0.45" cy="0.4" r="0.6"><stop offset="0" stop-color="#f0f0f0"/><stop offset="0.6" stop-color="#c8c8c8"/><stop offset="1" stop-color="#8a8a8a"/></radialGradient>
</defs>
<path d="M1713.4,540 Q1713.6,533.5 1719,533 L1731,533 Q1733.5,533.5 1733.3,537 L1733.3,600 L1735.7,900 L1736.5,1200 L1740.5,1500 L1740.6,1538 Q1740.5,1544 1735,1544 L1727,1544 Q1723,1543.5 1722.5,1538 L1719.8,1500 L1701.6,1200 L1700.8,900 L1711.1,600 Z" fill="url(#sbar)"/>
<rect x="1645.6" y="915.2" width="56" height="40.8" rx="1.5" fill="#555"/>
<path d="M1667,915.2 L1701.2,915.2 L1701.6,1190 Q1701.6,1204.2 1690,1204.2 L1642.3,1204.2 L1642.3,1181.6 L1667,1181.6 Z" fill="url(#sbar)"/>
<path d="M1659,927.4 L1663.6,927.4 L1665.4,960 L1665.4,1160 L1664,1180.5 L1658,1180.5 L1656,1150 L1617,1128 Q1612.6,1125 1612.6,1120 L1612.6,990 Q1612.6,986 1617,984 L1659,962 Z" fill="url(#silver)" stroke="#2a2a2a" stroke-width="1.6" stroke-linejoin="round"/>
<rect x="1665.4" y="936" width="2" height="15.3" fill="#c8c8c8"/>
<path d="M1659,939.6 A6.5,6 0 0 0 1659,951.3 Z" fill="#bdbdbd" stroke="#444" stroke-width="0.8"/>
<rect x="1643.8" y="1004.8" width="23.2" height="37.2" fill="#1c1c1c"/>
<rect x="1650" y="1042" width="17" height="47.5" fill="#f6f6f6"/>
<rect x="1642.3" y="1091" width="24.7" height="29.3" fill="#1c1c1c"/>
<rect x="1618.5" y="1001.5" width="2.3" height="22.5" rx="1.1" fill="#1a1a1a"/>
<rect x="1623.3" y="1001.5" width="2.3" height="22.5" rx="1.1" fill="#1a1a1a"/>
<rect x="1628" y="1001.5" width="2.3" height="22.5" rx="1.1" fill="#1a1a1a"/>
<rect x="1632.6" y="1001.5" width="2.3" height="22.5" rx="1.1" fill="#1a1a1a"/>
<rect x="1637.6" y="1001.5" width="2.3" height="22.5" rx="1.1" fill="#1a1a1a"/>
<rect x="1618.5" y="1085" width="2.3" height="24" rx="1.1" fill="#1a1a1a"/>
<rect x="1623.3" y="1085" width="2.3" height="24" rx="1.1" fill="#1a1a1a"/>
<rect x="1628" y="1085" width="2.3" height="24" rx="1.1" fill="#1a1a1a"/>
<rect x="1632.6" y="1085" width="2.3" height="24" rx="1.1" fill="#1a1a1a"/>
<rect x="1637.6" y="1085" width="2.3" height="24" rx="1.1" fill="#1a1a1a"/>
<rect x="1638.5" y="1064" width="1.8" height="18" rx="0.9" fill="#2a2a2a"/>
<rect x="1642" y="1064" width="1.8" height="18" rx="0.9" fill="#2a2a2a"/>
<rect x="1645.5" y="1064" width="1.8" height="18" rx="0.9" fill="#2a2a2a"/>
<rect x="1649" y="1064" width="1.8" height="18" rx="0.9" fill="#2a2a2a"/>
<circle cx="1686.4" cy="998.4" r="15.2" fill="url(#bolt)" stroke="#1e1e1e" stroke-width="1.4"/>
<path d="M1644,1146.4 L1656,1182 L1662,1182 L1650,1146.4 Z" fill="#1a1a1a"/>
<path d="M1652,1204 L1660.5,1233 L1665.5,1233 L1657,1204 Z" fill="#141414"/>
<rect x="1648.8" y="1231.8" width="20.1" height="10.1" rx="4.5" fill="#111"/>
<circle cx="1687" cy="1131.5" r="15.1" fill="url(#bolt)" stroke="#1e1e1e" stroke-width="1.4"/>
</g>

<!-- ============ DIMENSIONS ============ -->
<g id="dims">
<rect x="331.1" y="485.4" width="1040.3" height="4.9" fill="#00bbeb"/>
<rect x="331.1" y="471.4" width="5.1" height="88.9" fill="#00bbeb"/>
<rect x="1366.3" y="471.4" width="5.1" height="88.3" fill="#00bbeb"/>
<rect x="216.0" y="557.1" width="4.9" height="958.9" fill="#00bbeb"/>
<rect x="202.6" y="557.1" width="131.4" height="5.1" fill="#00bbeb"/>
<rect x="202.6" y="1511.2" width="135.3" height="4.8" fill="#00bbeb"/>
<rect x="244.4" y="1180.6" width="1215.6" height="5.0" fill="#00bbeb"/>
<rect x="244.4" y="1166.7" width="4.5" height="32.7" fill="#00bbeb"/>
<rect x="1454.8" y="1166.5" width="5.2" height="33.2" fill="#00bbeb"/>
<rect x="1481.9" y="898.3" width="4.9" height="252.4" fill="#00bbeb"/>
<rect x="1467.9" y="898.3" width="32.4" height="5.3" fill="#00bbeb"/>
<rect x="1467.9" y="1145.5" width="32.4" height="5.2" fill="#00bbeb"/>
<rect x="623.9" y="1559.9" width="4.9" height="32.5" fill="#00bbeb"/>
<rect x="690.0" y="1559.9" width="4.9" height="32.5" fill="#00bbeb"/>
<rect x="623.9" y="1574.0" width="71.0" height="4.9" fill="#00bbeb"/>
<rect x="1606.0" y="471.8" width="5.6" height="31.7" fill="#00bbeb"/>
<rect x="1748.4" y="471.8" width="5.5" height="31.7" fill="#00bbeb"/>
<rect x="1606.0" y="485.1" width="147.9" height="5.0" fill="#00bbeb"/>
<rect x="1768.9" y="529.7" width="4.9" height="1017.3" fill="#00bbeb"/>
<rect x="1755.0" y="527.5" width="32.0" height="4.7" fill="#00bbeb"/>
<rect x="1755.0" y="1544.5" width="32.0" height="5.2" fill="#00bbeb"/>
<text x="632.23" y="467.9" font-size="37.5" font-weight="bold" fill="#00bbeb" textLength="79.18" lengthAdjust="spacingAndGlyphs">MIN:</text>
<text x="724.76" y="467.9" font-size="37.5" font-weight="bold" fill="#00bbeb" textLength="103.72" lengthAdjust="spacingAndGlyphs">45mm</text>
<text x="842.53" y="467.9" font-size="37.5" font-weight="bold" fill="#00bbeb" textLength="89.61" lengthAdjust="spacingAndGlyphs">MAX:</text>
<text x="945.95" y="467.9" font-size="37.5" font-weight="bold" fill="#00bbeb" textLength="125.29" lengthAdjust="spacingAndGlyphs">420mm</text>
<text x="790.46" y="1233.9" font-size="36.3" font-weight="bold" fill="#00bbeb" textLength="123.86" lengthAdjust="spacingAndGlyphs">465mm</text>
<text x="607.19" y="1627" font-size="37.5" font-weight="bold" fill="#00bbeb" textLength="104.3" lengthAdjust="spacingAndGlyphs">30mm</text>
<text x="1627.91" y="468.2" font-size="37.5" font-weight="bold" fill="#00bbeb" textLength="104.79" lengthAdjust="spacingAndGlyphs">50mm</text>
<text transform="translate(1534.6,0) rotate(-90)" x="-1084.26" y="0" font-size="36.3" font-weight="bold" fill="#00bbeb" textLength="119.3" lengthAdjust="spacingAndGlyphs">100mm</text>
<text transform="translate(1821,0) rotate(-90)" x="-1099.85" y="0" font-size="36.3" font-weight="bold" fill="#00bbeb" textLength="125.6" lengthAdjust="spacingAndGlyphs">425mm</text>
<text transform="translate(199.8,0) rotate(-90)" x="-1246.48" y="0" font-size="36.3" font-weight="bold" fill="#00bbeb" textLength="79.72" lengthAdjust="spacingAndGlyphs">MIN:</text>
<text transform="translate(199.8,0) rotate(-90)" x="-1156.08" y="0" font-size="36.3" font-weight="bold" fill="#00bbeb" textLength="100.9" lengthAdjust="spacingAndGlyphs">75mm</text>
<text transform="translate(199.8,0) rotate(-90)" x="-1040.99" y="0" font-size="36.3" font-weight="bold" fill="#00bbeb" textLength="90.35" lengthAdjust="spacingAndGlyphs">MAX:</text>
<text transform="translate(199.8,0) rotate(-90)" x="-937.75" y="0" font-size="36.3" font-weight="bold" fill="#00bbeb" textLength="113.28" lengthAdjust="spacingAndGlyphs">405cm</text>
</g>

<!-- bottom bar -->
<rect x="0" y="1856" width="2000" height="73" fill="#02bdea"/>
</svg>
</body></html>
